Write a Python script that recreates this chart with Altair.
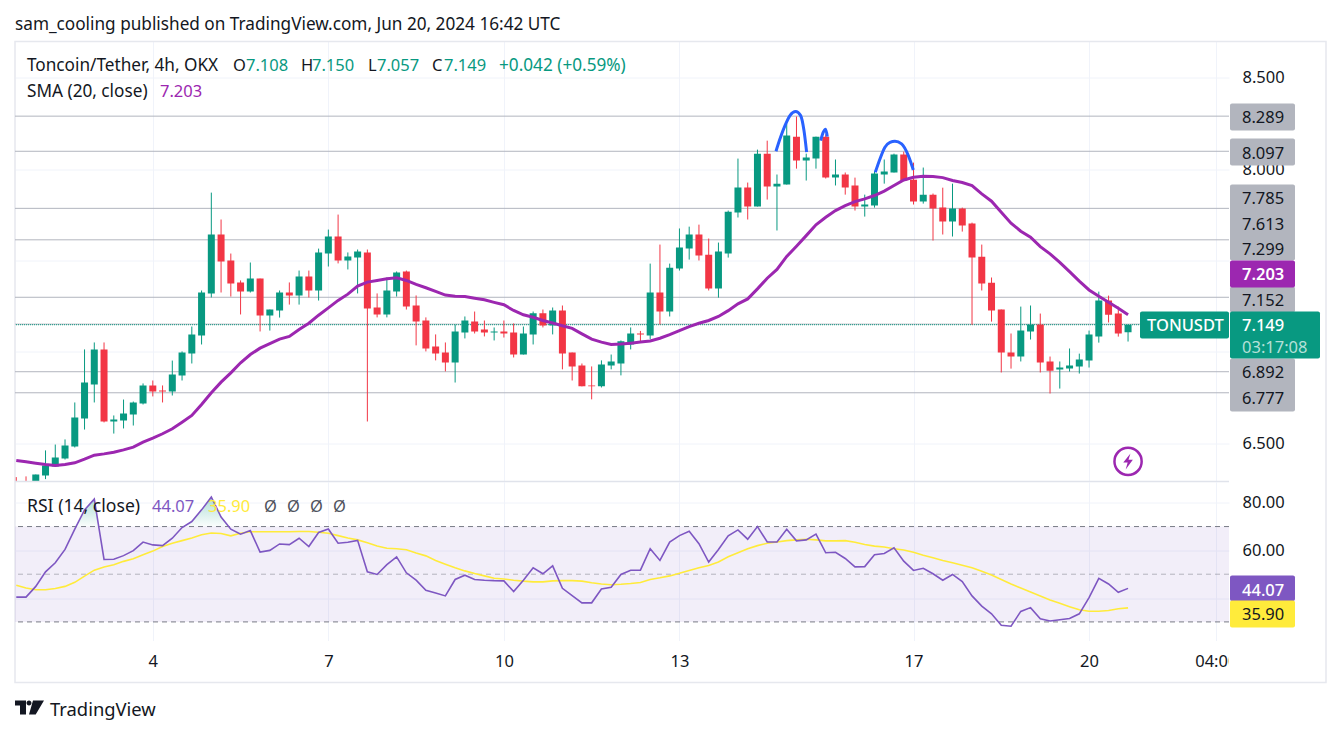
import altair as alt
import pandas as pd

FONT = "Noto Sans"
DARK = "#131722"
GREEN = "#089981"
RED = "#F23645"
PURPLE = "#9C27B0"
RSI_COL = "#7E57C2"
YELLOW = "#FFEB3B"
GRAY = "#B2B5BE"
GRID = "#F0F3FA"

opens = [6.27,6.28,6.29,6.325,6.374,6.418,6.483,6.636,6.822,7.014,6.620,6.626,6.658,6.718,6.817,6.789,6.784,6.871,6.992,7.090,
         7.320,7.642,7.500,7.380,7.330,7.401,7.199,7.227,7.325,7.309,7.412,7.336,7.538,7.631,7.500,7.517,7.544,7.243,7.205,7.331,
         7.440,7.254,7.172,7.030,6.997,6.943,7.107,7.167,7.123,7.107,7.112,7.107,6.986,7.096,7.211,7.145,7.227,6.997,6.926,6.817,
         6.812,6.926,6.937,7.041,7.101,7.090,7.325,7.221,7.456,7.565,7.642,7.532,7.347,7.538,7.762,7.899,7.795,8.084,7.904,7.915,
         8.177,8.046,8.057,8.177,7.953,7.970,7.910,7.795,7.800,7.970,7.981,8.079,7.942,7.822,7.860,7.789,7.713,7.784,7.702,7.521,
         7.379,7.232,6.997,6.975,7.112,7.150,6.948,6.904,6.909,6.920,6.953,7.084,7.281,7.210,7.108]
highs = [6.316,6.32,6.33,6.462,6.494,6.522,6.724,7.014,7.052,7.052,6.653,6.740,6.729,6.828,6.844,6.817,6.953,7.003,7.139,7.336,
         7.871,7.724,7.538,7.391,7.489,7.401,7.232,7.336,7.380,7.445,7.445,7.565,7.669,7.751,7.544,7.560,7.560,7.320,7.407,7.440,
         7.445,7.309,7.189,7.096,7.052,7.150,7.194,7.221,7.172,7.134,7.172,7.156,7.139,7.221,7.232,7.243,7.254,6.997,6.937,6.921,
         6.954,6.986,7.063,7.134,7.115,7.483,7.587,7.483,7.675,7.685,7.696,7.620,7.598,7.773,8.057,7.926,8.106,8.155,7.970,8.248,
         8.287,8.084,8.177,8.190,8.052,7.981,7.953,7.860,7.990,8.052,8.084,8.095,8.035,8.008,7.866,7.898,7.920,7.789,7.707,7.587,
         7.407,7.232,7.101,7.248,7.254,7.210,6.975,6.948,7.019,6.991,7.117,7.330,7.308,7.248,7.150]
lows = [6.25,6.24,6.26,6.305,6.374,6.412,6.478,6.576,6.724,6.615,6.554,6.582,6.598,6.713,6.757,6.724,6.762,6.844,6.937,7.041,
        7.298,7.325,7.303,7.205,7.325,7.112,7.117,7.188,7.259,7.259,7.298,7.281,7.467,7.484,7.451,7.320,6.620,7.189,7.189,7.303,
        7.232,7.036,7.003,6.954,6.894,6.833,7.074,7.101,7.085,7.063,7.079,6.970,6.986,7.041,7.134,7.096,6.905,6.844,6.812,6.741,
        6.806,6.905,6.872,7.014,7.06,7.07,7.150,7.194,7.445,7.505,7.500,7.336,7.297,7.516,7.735,7.724,7.795,7.833,7.664,7.915,
        8.002,7.937,8.002,7.948,7.910,7.860,7.773,7.740,7.789,7.920,7.981,7.937,7.806,7.811,7.609,7.642,7.631,7.658,7.148,7.336,
        7.166,6.888,6.909,6.948,7.068,6.888,6.773,6.800,6.893,6.882,6.915,7.051,7.161,7.084,7.057]
closes = [6.25,6.26,6.33,6.380,6.423,6.489,6.642,6.833,7.014,6.620,6.631,6.664,6.724,6.817,6.784,6.784,6.877,6.997,7.095,7.325,
          7.642,7.494,7.374,7.330,7.401,7.199,7.232,7.325,7.309,7.412,7.336,7.544,7.631,7.500,7.522,7.549,7.238,7.205,7.336,7.435,
          7.249,7.167,7.019,6.992,6.943,7.112,7.172,7.112,7.107,7.112,7.101,6.986,7.101,7.211,7.145,7.227,6.992,6.921,6.812,6.812,
          6.932,6.948,7.058,7.101,7.096,7.325,7.221,7.461,7.571,7.642,7.527,7.347,7.549,7.767,7.899,7.795,8.084,7.904,7.920,8.183,
          8.046,8.063,8.177,7.953,7.970,7.899,7.795,7.806,7.975,7.986,8.079,7.937,7.822,7.860,7.784,7.713,7.784,7.691,7.516,7.374,
          7.226,6.997,6.975,7.117,7.150,6.942,6.898,6.915,6.926,6.959,7.095,7.281,7.204,7.101,7.149]
sma = [6.407,6.400,6.392,6.385,6.380,6.385,6.394,6.414,6.436,6.443,6.452,6.465,6.480,6.507,6.529,6.553,6.580,6.616,6.653,6.713,
       6.777,6.835,6.886,6.941,6.986,7.021,7.046,7.070,7.085,7.123,7.157,7.201,7.241,7.282,7.316,7.360,7.382,7.391,7.400,7.405,
       7.391,7.369,7.351,7.331,7.311,7.305,7.303,7.294,7.285,7.271,7.258,7.227,7.203,7.190,7.172,7.158,7.143,7.129,7.099,7.070,
       7.054,7.041,7.043,7.048,7.054,7.06,7.075,7.095,7.117,7.139,7.157,7.172,7.194,7.226,7.263,7.290,7.345,7.403,7.451,7.522,
       7.578,7.636,7.695,7.736,7.773,7.800,7.822,7.837,7.855,7.879,7.910,7.940,7.955,7.960,7.959,7.953,7.937,7.926,7.909,7.864,
       7.824,7.764,7.704,7.660,7.627,7.576,7.536,7.490,7.439,7.387,7.339,7.305,7.272,7.239,7.203]
rsi = [40.4,40.4,44.9,51.0,54.8,60.4,68.9,77.0,81.5,56.2,56.3,57.8,59.9,63.5,62.3,62.0,65.1,69.6,72.1,77.0,
       82.4,74.0,68.9,66.8,68.3,59.3,60.0,62.7,62.4,65.1,61.6,67.5,69.0,63.0,63.4,64.2,51.0,49.9,54.0,57.3,
       50.6,47.5,43.3,42.1,40.9,47.8,49.6,47.8,47.5,47.3,47.2,42.7,47.5,52.7,50.2,53.5,44.1,41.0,38.0,38.0,
       43.8,44.5,49.9,51.7,51.7,60.7,55.8,63.5,66.2,68.0,62.8,55.1,60.4,66.1,68.6,64.7,70.0,63.5,63.5,68.9,
       64.0,64.4,66.8,59.0,59.2,56.6,53.1,53.2,58.2,58.7,61.1,55.5,51.6,52.5,50.2,47.5,49.9,46.9,40.9,36.6,
       33.4,28.6,28.2,34.4,36.0,31.3,30.4,30.9,31.4,33.4,40.2,48.3,45.9,42.4,44.07]
rsi_ma = [45.4,44.2,43.5,43.5,44.0,44.9,46.6,49.2,51.7,53.0,54.0,55.4,56.5,58.2,59.7,61.6,63.0,64.1,65.2,66.6,
          67.3,67.1,66.1,67.2,67.8,67.8,67.8,67.8,67.8,67.9,67.9,67.6,67.2,66.2,65.2,64.4,63.2,61.8,60.9,60.7,
          60.3,58.9,57.7,55.8,54.2,52.7,51.4,50.3,49.3,48.3,48.0,47.5,47.1,46.8,46.8,47.2,47.3,47.3,47.1,46.4,
          45.9,45.6,45.8,46.1,46.5,47.8,48.5,49.3,50.4,51.6,52.7,53.7,55.1,57.3,59.0,60.7,62.0,63.0,63.5,64.1,
          64.4,64.7,64.4,64.0,64.0,64.1,63.4,62.5,61.8,61.4,60.7,60.2,59.2,58.0,56.9,55.8,54.8,53.8,52.7,51.3,
          49.7,47.8,45.9,44.2,42.5,40.9,39.2,37.8,36.4,35.1,34.5,34.5,34.8,35.5,35.90]

level_prices = [8.289, 8.097, 7.785, 7.613, 7.299, 7.152, 6.892, 6.777]
price_ticks = [6.5, 7.0, 7.5, 8.0, 8.5]
rsi_ticks = [40, 60, 80]
time_tick_bars = [14, 32, 50, 68, 92, 110, 123]
time_tick_labels = ["4", "7", "10", "13", "17", "20", "04:00"]

arc_bar = [77.90,78.31,78.82,79.33,79.92,80.43,80.77,81.04,
           82.48,82.75,82.99,83.16,
           88.08,88.56,89.07,89.59,90.10,90.78,91.47,91.98]
arc_price = [8.097,8.165,8.237,8.292,8.314,8.292,8.210,8.092,
             8.155,8.201,8.217,8.177,
             7.982,8.055,8.119,8.146,8.152,8.137,8.073,7.995]
arc_id = ["a"]*8 + ["b"]*4 + ["c"]*8

peak_bar = [6.14,7,8,8.45, 17.16,18,19,20,21,21.78]
peak_rsi = [70,77.0,81.5,70, 70,72.1,77.0,82.4,74.0,70]
peak_id = ["a"]*4 + ["b"]*6

# layout of the screenshot (page pixels)
LEFT, RIGHT_PLOT, RIGHT, TOP, SPLIT, BOTTOM_PANE, BOTTOM = 15, 1229, 1326, 41, 481, 640, 682
W = RIGHT_PLOT - LEFT
H1 = SPLIT - TOP
H2 = BOTTOM_PANE - SPLIT
FS = 16.5
FT = 17.2

bars = list(range(len(closes)))
df = pd.DataFrame(dict(i=bars, o=opens, h=highs, l=lows, c=closes, sma=sma, rsi=rsi, ma=rsi_ma))
df["dir"] = ["up" if c >= o else "down" for o, c in zip(opens, closes)]
one = pd.DataFrame({"a": [0]})

xdom = [-0.13, 124.35]
xs = alt.Scale(domain=xdom, nice=False, zero=False, padding=0)
ys = alt.Scale(domain=[6.292, 8.697], nice=False, zero=False)
rs = alt.Scale(domain=[22.2, 88.9], nice=False, zero=False)
col = alt.Color("dir:N", scale=alt.Scale(domain=["up", "down"], range=[GREEN, RED]), legend=None)

tick_expr = "{" + ",".join(f"'{b}':'{t}'" for b, t in zip(time_tick_bars, time_tick_labels)) + "}[datum.value]"
ax_top_x = alt.Axis(values=time_tick_bars, labels=False, ticks=False, domain=False, grid=True, gridColor=GRID, title=None)
ax_top_y = alt.Axis(orient="right", values=price_ticks, ticks=False, domain=False, grid=True, gridColor=GRID,
                    title=None, labelFont=FONT, labelFontSize=FS, labelColor=DARK, labelPadding=13,
                    labelExpr="(datum.value == 7 || datum.value == 7.5) ? '' : format(datum.value, '.3f')")
ax_rsi_x = alt.Axis(values=time_tick_bars, ticks=False, domain=False, grid=True, gridColor=GRID, title=None, labelFont=FONT,
                    labelFontSize=FS, labelColor=DARK, labelPadding=13, labelFlush=False, labelOverlap=False,
                    labelAlign="center", labelExpr=tick_expr)
ax_rsi_y = alt.Axis(orient="right", values=rsi_ticks, ticks=False, domain=False, grid=True, gridColor=GRID,
                    title=None, labelFont=FONT, labelFontSize=FS, labelColor=DARK, labelPadding=13,
                    labelExpr="datum.value == 40 ? '' : format(datum.value, '.2f')")


def XT(f="i:Q"):
    return alt.X(f, scale=xs, axis=ax_top_x)


def YT(f):
    return alt.Y(f, scale=ys, axis=ax_top_y)


def XR(f="i:Q"):
    return alt.X(f, scale=xs, axis=ax_rsi_x)


def YR(f):
    return alt.Y(f, scale=rs, axis=ax_rsi_y)


def label(text, px, py, color=DARK, size=FS, align="left", weight=400, y0=TOP, opacity=1):
    return alt.Chart(one).mark_text(text=text, font=FONT, fontSize=size, color=color, align=align,
                                    baseline="middle", fontWeight=weight, opacity=opacity, clip=False).encode(
        x=alt.value(px - LEFT), y=alt.value(py + 1 - y0))


def box(x1, x2, y1, y2, fill, y0=TOP):
    return alt.Chart(one).mark_rect(fill=fill, cornerRadius=2, clip=False).encode(
        x=alt.value(x1 - LEFT), x2=alt.value(x2 - LEFT), y=alt.value(y1 - y0), y2=alt.value(y2 - y0))


levels = alt.Chart(pd.DataFrame({"p": level_prices})).mark_rule(color=GRAY, strokeWidth=1, clip=True).encode(y=YT("p:Q"))
last_line = alt.Chart(pd.DataFrame({"p": [closes[-1]]})).mark_rule(color=GREEN, strokeWidth=1, strokeDash=[1, 1], clip=True).encode(y=YT("p:Q"))
wicks = alt.Chart(df).mark_rule(strokeWidth=1, clip=True).encode(x=XT(), y=YT("l:Q"), y2="h:Q", color=col)
bodies = alt.Chart(df).mark_bar(size=7, clip=True).encode(x=XT(), y=YT("o:Q"), y2="c:Q", color=col)
sma_line = alt.Chart(df).mark_line(color=PURPLE, strokeWidth=3, clip=True).encode(x=XT(), y=YT("sma:Q"))
arcs = alt.Chart(pd.DataFrame(dict(i=arc_bar, p=arc_price, g=arc_id))).mark_line(
    color="#2962FF", strokeWidth=3, interpolate="monotone", clip=True).encode(x=XT(), y=YT("p:Q"), detail="g:N")

icon_pos = pd.DataFrame({"i": [114], "p": [6.402]})
icon_ring = alt.Chart(icon_pos).mark_point(shape="circle", filled=False, size=740, color=PURPLE, strokeWidth=2.5, opacity=1).encode(
    x=XT(), y=YT("p:Q"))
BOLT = "M0.3,-1 L-0.6,0.15 L-0.05,0.15 L-0.3,1 L0.6,-0.2 L0.05,-0.2 Z"
icon_bolt = alt.Chart(icon_pos).mark_point(shape=BOLT, filled=True, size=256, color=PURPLE, opacity=1).encode(x=XT(), y=YT("p:Q"))

frame = alt.Chart(one).mark_rect(filled=False, stroke="#E6E8EE", strokeWidth=1.5, clip=False).encode(
    x=alt.value(0), x2=alt.value(RIGHT - LEFT), y=alt.value(0), y2=alt.value(BOTTOM - TOP))
split = alt.Chart(one).mark_rule(color="#E0E3EB", strokeWidth=1.5, clip=False).encode(
    x=alt.value(0), x2=alt.value(W), y=alt.value(H1))

header = [
    label("sam_cooling published on TradingView.com, Jun 20, 2024 16:42 UTC", 15, 23, size=FT),
    label("Toncoin/Tether, 4h, OKX", 27, 64, size=FT),
    label("O", 233, 64), label("7.108", 246, 64, GREEN),
    label("H", 301, 64), label("7.150", 312, 64, GREEN),
    label("L", 368, 64), label("7.057", 377, 64, GREEN),
    label("C", 432, 64), label("7.149", 444, 64, GREEN),
    label("+0.042 (+0.59%)", 499, 64, GREEN, size=FT),
    label("SMA (20, close)", 27, 90, size=FT),
    label("7.203", 160, 90, PURPLE),
]
tags = [
    box(1230, 1295, 103, 130, GRAY), label("8.289", 1242, 116),
    box(1230, 1295, 138, 165, GRAY), label("8.097", 1242, 152),
    box(1230, 1295, 184, 260, GRAY), label("7.785", 1242, 197), label("7.613", 1242, 223), label("7.299", 1242, 248.5),
    box(1230, 1295, 286, 312, GRAY), label("7.152", 1242, 299.5),
    box(1230, 1295, 358, 411, GRAY), label("6.892", 1242, 371), label("6.777", 1242, 397),
    box(1230, 1295, 260, 287, PURPLE), label("7.203", 1242, 273, "white", weight=600),
    box(1140, 1229, 311, 338, GREEN), label("TONUSDT", 1147, 324.5, "white", weight=500),
    box(1230, 1320, 311, 358, GREEN), label("7.149", 1242, 324, "white", weight=500),
    label("03:17:08", 1242, 346, "#B5E0D8"),
]

top = alt.layer(
    frame, levels, last_line, wicks, bodies, sma_line, arcs, icon_ring, icon_bolt, split, *header, *tags
).properties(width=W, height=H1)

# RSI pane
band = alt.Chart(pd.DataFrame({"a": [70], "b": [30]})).mark_rect(color=RSI_COL, opacity=0.1, clip=True).encode(
    x=alt.value(0), x2=alt.value(W), y=YR("a:Q"), y2="b:Q")
dash_strong = alt.Chart(pd.DataFrame({"v": [70, 30]})).mark_rule(color="#787B86", strokeDash=[5, 4], strokeWidth=1, clip=True).encode(y=YR("v:Q"))
dash_soft = alt.Chart(pd.DataFrame({"v": [50]})).mark_rule(color="#787B86", opacity=0.5, strokeDash=[5, 4], strokeWidth=1, clip=True).encode(y=YR("v:Q"))
peaks = alt.Chart(pd.DataFrame(dict(i=peak_bar, r=peak_rsi, g=peak_id, base=[70] * len(peak_bar)))).mark_area(
    clip=True,
    color=alt.Gradient(gradient="linear", x1=0, x2=0, y1=0, y2=1,
                       stops=[alt.GradientStop(color="rgba(8,153,129,0.32)", offset=0),
                              alt.GradientStop(color="rgba(8,153,129,0.02)", offset=1)])
).encode(x=XR(), y=YR("r:Q"), y2="base:Q", detail="g:N")
ma_line = alt.Chart(df).mark_line(color=YELLOW, strokeWidth=1.6, clip=True).encode(x=XR(), y=YR("ma:Q"))
rsi_line = alt.Chart(df).mark_line(color=RSI_COL, strokeWidth=1.6, clip=True).encode(x=XR(), y=YR("rsi:Q"))
legend_rsi = [
    label("RSI (14, close)", 27, 505, y0=SPLIT, size=17.6),
    label("44.07", 152, 505, RSI_COL, y0=SPLIT),
    label("35.90", 208, 505, YELLOW, y0=SPLIT),
    label("\u00d8", 264, 505, "#50535E", y0=SPLIT), label("\u00d8", 287, 505, "#50535E", y0=SPLIT),
    label("\u00d8", 310, 505, "#50535E", y0=SPLIT), label("\u00d8", 333, 505, "#50535E", y0=SPLIT),
]
tags_rsi = [
    box(1230, 1295, 575, 600.5, RSI_COL, y0=SPLIT), label("44.07", 1242, 589, "white", weight=500, y0=SPLIT),
    box(1230, 1295, 600, 627, YELLOW, y0=SPLIT), label("35.90", 1242, 613, y0=SPLIT),
]
cover = box(RIGHT_PLOT, 1262, 645, 678, "white", y0=SPLIT)
LOGO = ("M-1,-0.483 L-0.241,-0.483 L-0.241,0.483 L-0.655,0.483 L-0.655,-0.138 L-1,-0.138 Z "
        "M-0.206,-0.31 a0.172,0.172 0 1,0 0.344,0 a0.172,0.172 0 1,0 -0.344,0 Z "
        "M0.241,-0.483 L1,-0.483 L0.428,0.483 L-0.034,0.483 Z")
logo = alt.Chart(one).mark_point(shape=LOGO, filled=True, size=841, color=DARK, opacity=1, clip=False).encode(
    x=alt.value(29.5 - LEFT), y=alt.value(707 - SPLIT))
brand = label("TradingView", 50, 708, DARK, size=18.4, y0=SPLIT)

bottom = alt.layer(
    band, dash_strong, dash_soft, peaks, ma_line, rsi_line, *legend_rsi, *tags_rsi, cover, logo, brand
).properties(width=W, height=H2)

chart = alt.vconcat(top, bottom, spacing=0, bounds="flush").properties(
    padding={"left": 6, "top": 7.5, "right": 5, "bottom": 5},
    background="white",
).configure_view(stroke=None)

chart.save("out.html", embed_options={"renderer": "svg", "actions": False})
